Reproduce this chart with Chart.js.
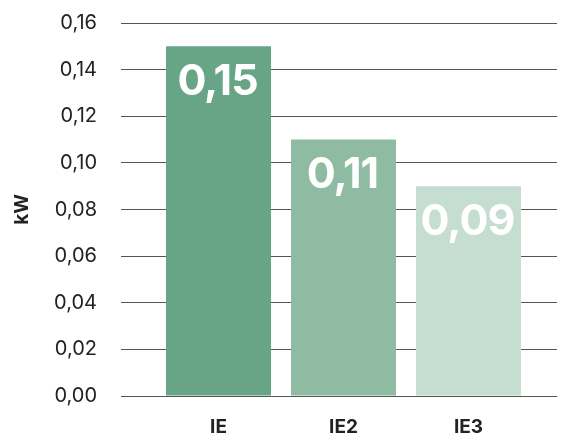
<!DOCTYPE html>
<html>
<head>
<meta charset="utf-8">
<script src="https://cdn.jsdelivr.net/npm/chart.js@4/dist/chart.umd.min.js"></script>
<style>
html,body{margin:0;padding:0;background:#fff;}
#wrap{width:569px;height:438px;}
</style>
</head>
<body>
<div id="wrap"><canvas id="c" width="569" height="438"></canvas></div>
<script>
const categories = ['IE', 'IE2', 'IE3'];
const values = [0.15, 0.11, 0.09];
const valueLabels = ['0,15', '0,11', '0,09'];
const barColors = ['#67a586', '#8fbba3', '#c6ddd1'];
const yTitle = 'kW';
const yMin = 0, yMax = 0.16, yStep = 0.02;

const FONT = 'Inter, "Open Sans", sans-serif';
const GRID = '#555555';

const valueLabelPlugin = {
  id: 'valueLabels',
  afterDatasetsDraw(chart) {
    const ctx = chart.ctx;
    const meta = chart.getDatasetMeta(0);
    ctx.save();
    ctx.fillStyle = '#ffffff';
    ctx.font = 'bold 43px ' + FONT;
    if ('letterSpacing' in ctx) ctx.letterSpacing = '-1px';
    ctx.textAlign = 'center';
    ctx.textBaseline = 'middle';
    meta.data.forEach((bar, i) => {
      ctx.fillText(valueLabels[i], bar.x - 1, bar.y + 36);
    });
    ctx.restore();
  }
};

new Chart(document.getElementById('c'), {
  type: 'bar',
  data: {
    labels: categories,
    datasets: [{
      data: values,
      backgroundColor: barColors,
      borderWidth: 0,
      categoryPercentage: 1,
      barPercentage: 0.84
    }]
  },
  options: {
    responsive: false,
    animation: false,
    devicePixelRatio: 1,
    layout: { padding: { top: 0, bottom: 0, left: 0, right: 0 } },
    plugins: { legend: { display: false }, tooltip: { enabled: false } },
    scales: {
      x: {
        offset: true,
        afterFit(s) { s.height = 42; },
        grid: { display: false },
        border: { display: false },
        ticks: {
          color: '#222222',
          font: { family: FONT, size: 19, weight: 'bold' },
          padding: 12
        }
      },
      y: {
        position: 'left',
        min: yMin, max: yMax,
        afterFit(s) { s.width = 156; s.paddingTop = 23; },
        border: { display: false },
        grid: { color: GRID, lineWidth: 1, drawTicks: true, tickLength: 35 },
        ticks: {
          stepSize: yStep,
          color: '#222222',
          padding: 24,
          font: { family: FONT, size: 20 },
          callback: v => v.toFixed(2).replace('.', ',')
        },
        title: {
          display: true,
          text: yTitle,
          color: '#222222',
          font: { family: FONT, size: 19, weight: 'bold' },
          padding: { top: 11, bottom: 0 }
        }
      },
      y2: {
        position: 'right',
        display: true,
        min: yMin, max: yMax,
        afterFit(s) { s.width = 38; },
        border: { display: false },
        grid: { color: GRID, lineWidth: 1, drawOnChartArea: false, drawTicks: true, tickLength: 26 },
        ticks: { display: false, stepSize: yStep }
      }
    }
  },
  plugins: [valueLabelPlugin]
});
</script>
</body>
</html>
